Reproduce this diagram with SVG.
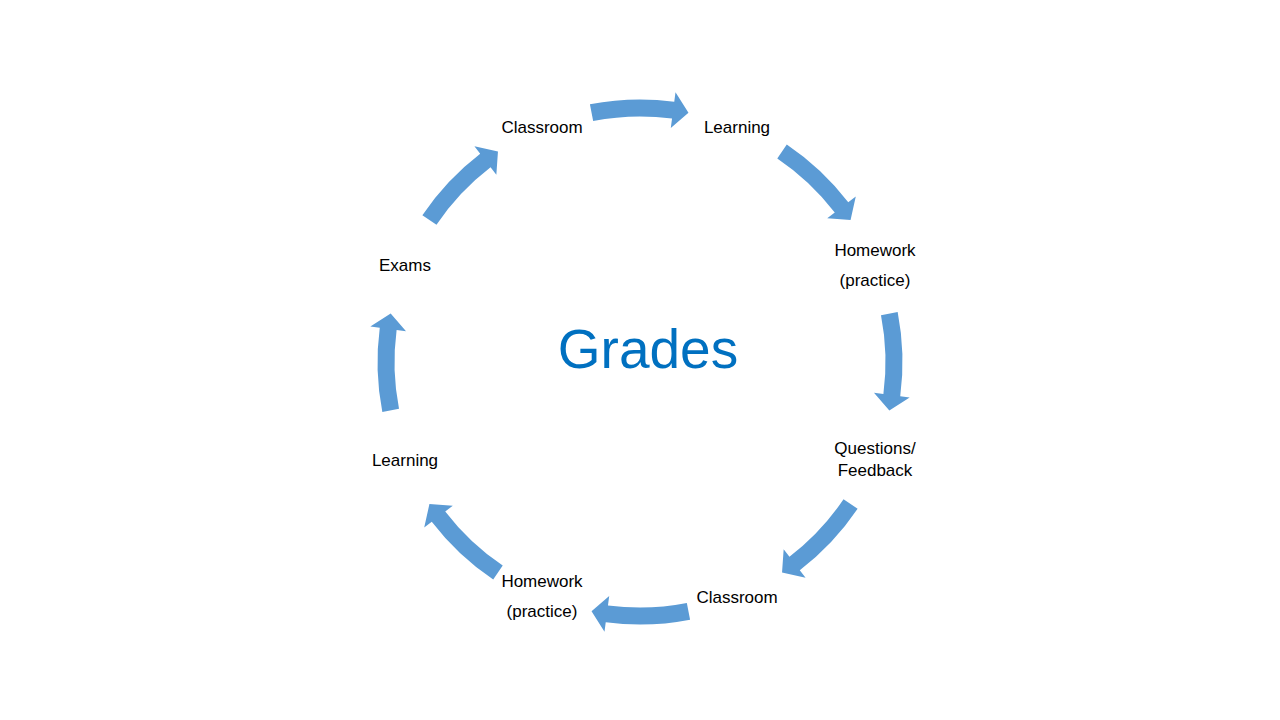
<svg xmlns="http://www.w3.org/2000/svg" xmlns:xlink="http://www.w3.org/1999/xlink" width="1280" height="720" viewBox="0 0 1280 720">
<style>
.lbl{font-family:"Liberation Sans",Arial,sans-serif;font-size:17px;fill:#000;text-anchor:middle}
.title{font-family:"Liberation Sans",Arial,sans-serif;font-size:55px;fill:#0070C0;text-anchor:middle}
.arr{fill:#5B9BD5}
</style>
<defs>
<path id="arc" class="arr" d="M589.91,104.33 A262.5,262.5 0 0 1 674.26,101.76 L675.50,92.34 L688.46,112.67 L670.80,128.03 L672.04,118.61 A245.5,245.5 0 0 0 593.16,121.01 Z"/>
</defs>
<rect width="1280" height="720" fill="#fff"/>
<g id="connectors">
<use xlink:href="#arc"/>
<use xlink:href="#arc" transform="rotate(45 640 362)"/>
<use xlink:href="#arc" transform="rotate(90 640 362)"/>
<use xlink:href="#arc" transform="rotate(135 640 362)"/>
<use xlink:href="#arc" transform="rotate(180 640 362)"/>
<use xlink:href="#arc" transform="rotate(225 640 362)"/>
<use xlink:href="#arc" transform="rotate(270 640 362)"/>
<use xlink:href="#arc" transform="rotate(315 640 362)"/>
</g>
<g id="center"><text class="title" x="648" y="368">Grades</text></g>
<g id="n1"><text class="lbl" x="542" y="133">Classroom</text></g>
<g id="n2"><text class="lbl" x="737" y="133">Learning</text></g>
<g id="n3"><text class="lbl" x="875" y="256">Homework</text><text class="lbl" x="875" y="286">(practice)</text></g>
<g id="n4"><text class="lbl" x="875" y="454">Questions/</text><text class="lbl" x="875" y="476">Feedback</text></g>
<g id="n5"><text class="lbl" x="737" y="603">Classroom</text></g>
<g id="n6"><text class="lbl" x="542" y="587">Homework</text><text class="lbl" x="542" y="617">(practice)</text></g>
<g id="n7"><text class="lbl" x="405" y="466">Learning</text></g>
<g id="n8"><text class="lbl" x="405" y="271">Exams</text></g>
</svg>
